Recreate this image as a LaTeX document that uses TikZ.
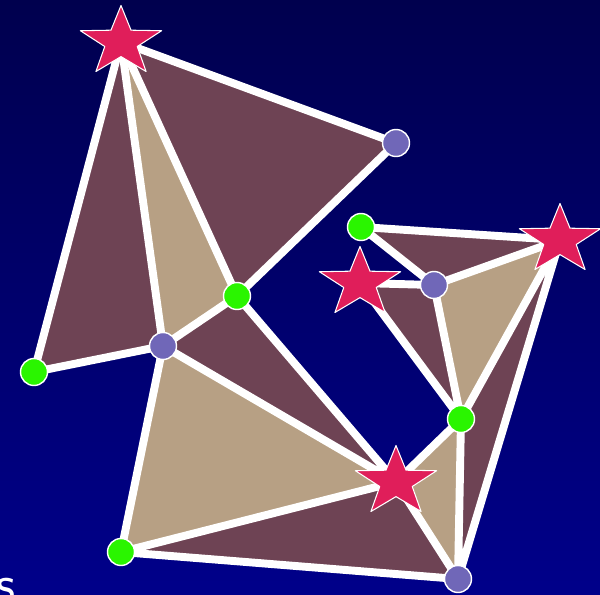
\documentclass[tikz,border=0pt]{standalone}
\usepackage{tikz}
\usetikzlibrary{shapes.geometric}
\definecolor{bgtop}{HTML}{00004E}
\definecolor{bgbot}{HTML}{00008A}
\definecolor{facebrown}{HTML}{6E4354}
\definecolor{facetan}{HTML}{B7A084}
\definecolor{starred}{HTML}{E01E5A}
\definecolor{dotpurple}{HTML}{7067B8}
\definecolor{dotgreen}{HTML}{2AF500}

\begin{document}
\begin{tikzpicture}[
  x=0.02cm,y=-0.02cm,
  line cap=round,
  line join=round,
  edge/.style={draw=white,line width=4.5pt},
  darkface/.style={fill=facebrown},
  lightface/.style={fill=facetan},
  starnode/.style={star,star points=5,star point ratio=2.5,minimum size=1.46cm,
    inner sep=0pt,fill=starred,draw=white,line width=0.6pt,xscale=1.17},
  purpledot/.style={circle,minimum size=0.54cm,inner sep=0pt,fill=dotpurple,draw=white,line width=0.8pt},
  greendot/.style={circle,minimum size=0.54cm,inner sep=0pt,fill=dotgreen,draw=white,line width=0.8pt}
]

% frame and background
\clip (0,0) rectangle (600,595);
\shade[top color=bgtop,bottom color=bgbot] (0,0) rectangle (600,595);

% mesh vertices
\coordinate (S1) at (121,42);
\coordinate (P1) at (396,143);
\coordinate (G1) at (237,296);
\coordinate (P2) at (163,346);
\coordinate (G2) at (34,372);
\coordinate (G3) at (121,552);
\coordinate (S2) at (396,482);
\coordinate (P3) at (458,579);
\coordinate (G4) at (461,419);
\coordinate (S3) at (560,240);
\coordinate (G5) at (361,227);
\coordinate (P4) at (434,285);
\coordinate (S4) at (360,283);

% faces, left part
\fill[darkface] (S1) -- (G2) -- (P2) -- cycle;
\fill[lightface] (S1) -- (P2) -- (G1) -- cycle;
\fill[darkface] (S1) -- (G1) -- (P1) -- cycle;
\fill[darkface] (P2) -- (G1) -- (S2) -- cycle;
\fill[lightface] (P2) -- (S2) -- (G3) -- cycle;
\fill[darkface] (G3) -- (S2) -- (P3) -- cycle;

% faces, right part
\fill[lightface] (S2) -- (G4) -- (P3) -- cycle;
\fill[darkface] (G4) -- (S3) -- (P3) -- cycle;
\fill[lightface] (P4) -- (S3) -- (G4) -- cycle;
\fill[darkface] (G5) -- (S3) -- (P4) -- cycle;
\fill[darkface] (S4) -- (P4) -- (G4) -- cycle;

% edges
\draw[edge] (G2) -- (S1) -- (P1) -- (G1) -- (P2) -- (G2);
\draw[edge] (S1) -- (P2);
\draw[edge] (S1) -- (G1);
\draw[edge] (G1) -- (S2) -- (P2) -- (G3) -- (S2);
\draw[edge] (G3) -- (P3) -- (S2) -- (G4) -- (P3) -- (S3) -- (G4);
\draw[edge] (G5) -- (S3) -- (P4) -- (G5);
\draw[edge] (S4) -- (P4) -- (G4) -- (S4);

% vertex markers
\node[starnode] (s1) at (S1) {};
\node[starnode] (s2) at (S2) {};
\node[starnode] (s3) at (S3) {};
\node[starnode] (s4) at (S4) {};
\node[purpledot] (p1) at (P1) {};
\node[purpledot] (p2) at (P2) {};
\node[purpledot] (p3) at (P3) {};
\node[purpledot] (p4) at (P4) {};
\node[greendot] (g1) at (G1) {};
\node[greendot] (g2) at (G2) {};
\node[greendot] (g3) at (G3) {};
\node[greendot] (g4) at (G4) {};
\node[greendot] (g5) at (G5) {};

% cut-off caption letter
\node[text=white,font=\sffamily\fontsize{30}{34}\selectfont,anchor=north west,inner sep=0pt] (cap) at (-4,578) {s};

\end{tikzpicture}
\end{document}
